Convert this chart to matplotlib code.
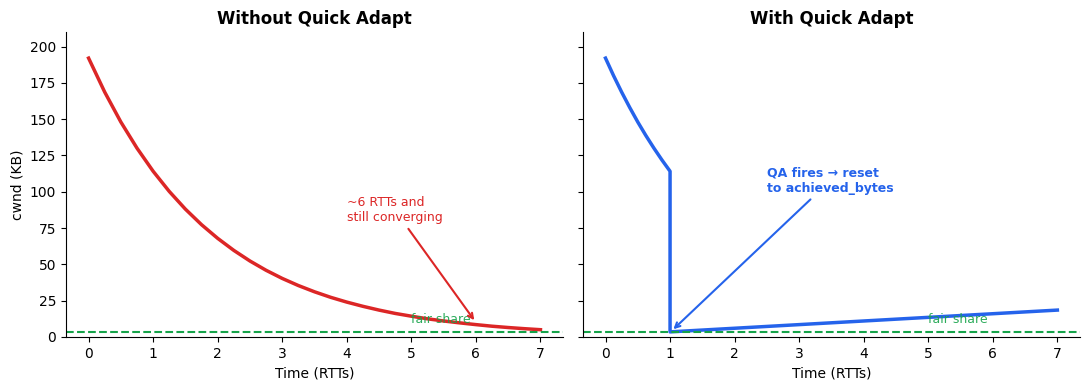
import matplotlib
matplotlib.use("Agg")
import matplotlib.pyplot as plt

# time axis (RTTs) and cwnd (KB)
t_slow = [0, 0.25, 0.5, 0.75, 1, 1.25, 1.5, 1.75, 2, 2.25, 2.5, 2.75, 3, 3.25,
          3.5, 3.75, 4, 4.25, 4.5, 4.75, 5, 5.25, 5.5, 5.75, 6, 6.25, 6.5, 6.75, 7]
cwnd_slow = [192, 168.6, 148.0, 130.0, 114.1, 100.2, 88.0, 77.3, 67.9, 59.6, 52.3,
             45.9, 40.3, 35.4, 31.1, 27.3, 24.0, 21.1, 18.5, 16.2, 14.3, 12.5, 11.0,
             9.7, 8.5, 7.4, 6.5, 5.7, 5.0]

t_qa = [0, 0.125, 0.25, 0.375, 0.5, 0.625, 0.75, 0.875, 1.0, 1.0, 7.0]
cwnd_qa = [192, 179.9, 168.6, 158.0, 148.0, 138.7, 130.0, 121.8, 114.1, 3.5, 18.5]

fair_share = 3.5

RED = "#dc2626"
BLUE = "#2563eb"
GREEN = "#16a34a"

fig, (ax1, ax2) = plt.subplots(1, 2, figsize=(10.89, 3.9), dpi=100, sharey=True)
fig.subplots_adjust(left=0.0606, right=0.9917, top=0.918, bottom=0.136, wspace=0.04)

# left panel
ax1.plot(t_slow, cwnd_slow, color=RED, lw=2.5)
ax1.axhline(fair_share, color=GREEN, ls="--", lw=1.5)
ax1.text(5, fair_share + 6, "fair share", color=GREEN, fontsize=9, alpha=0.9)
ax1.annotate("~6 RTTs and\nstill converging", xy=(6, 10), xytext=(4, 80),
             color=RED, fontsize=9,
             arrowprops=dict(arrowstyle="->", color=RED, lw=1.5))
ax1.set_title("Without Quick Adapt", fontsize=12, fontweight="bold")
ax1.set_xlabel("Time (RTTs)")
ax1.set_ylabel("cwnd (KB)")

# right panel
ax2.plot(t_qa, cwnd_qa, color=BLUE, lw=2.5)
ax2.axhline(fair_share, color=GREEN, ls="--", lw=1.5)
ax2.text(5, fair_share + 6, "fair share", color=GREEN, fontsize=9, alpha=0.9)
ax2.annotate("QA fires \u2192 reset\nto achieved_bytes", xy=(1.02, 4), xytext=(2.5, 100),
             color=BLUE, fontsize=9, fontweight="bold",
             arrowprops=dict(arrowstyle="->", color=BLUE, lw=1.5))
ax2.set_title("With Quick Adapt", fontsize=12, fontweight="bold")
ax2.set_xlabel("Time (RTTs)")

for ax in (ax1, ax2):
    ax.spines["top"].set_visible(False)
    ax.spines["right"].set_visible(False)
    ax.set_ylim(0, 210)
    ax.set_xticks(range(8))

plt.savefig("out.png", dpi=100)
